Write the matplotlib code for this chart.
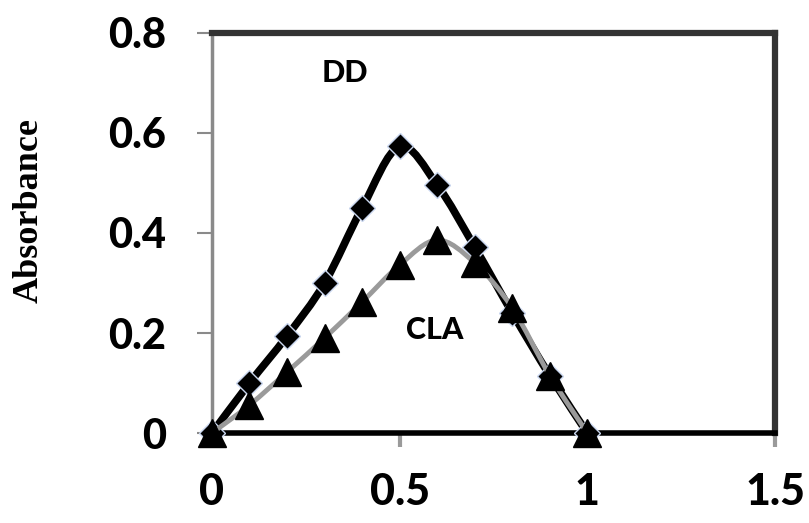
import numpy as np
import matplotlib.pyplot as plt
from matplotlib.path import Path
from matplotlib.patches import PathPatch

# mole fraction and absorbance
x_frac = [0, 0.1, 0.2, 0.3, 0.4, 0.5, 0.6, 0.7, 0.8, 0.9, 1.0]
dd_abs = [0, 0.10, 0.194, 0.30, 0.45, 0.573, 0.496, 0.372, 0.24, 0.115, 0]
cla_abs = [0, 0.056, 0.122, 0.19, 0.262, 0.336, 0.386, 0.34, 0.25, 0.115, 0]

x_ticks = [0, 0.5, 1, 1.5]
x_tick_labels = ['0', '0.5', '1', '1.5']
y_ticks = [0, 0.2, 0.4, 0.6, 0.8]
y_tick_labels = ['0', '0.2', '0.4', '0.6', '0.8']


def smooth_path(xs, ys):
    # excel-like smoothed line: catmull-rom segments as cubic beziers
    p = np.column_stack([xs, ys])
    n = len(p)
    verts = [p[0]]
    codes = [Path.MOVETO]
    for i in range(n - 1):
        p0 = p[i - 1] if i > 0 else p[i]
        p3 = p[i + 2] if i + 2 < n else p[i + 1]
        c1 = p[i] + (p[i + 1] - p0) / 6.0
        c2 = p[i + 1] - (p3 - p[i]) / 6.0
        verts += [c1, c2, p[i + 1]]
        codes += [Path.CURVE4] * 3
    return Path(verts, codes)


fig = plt.figure(figsize=(8.09, 5.23), dpi=100)
ax = fig.add_axes([0.262, 0.172, 0.696, 0.765])

ax.set_xlim(0, 1.5)
ax.set_ylim(0, 0.8)

# DD
ax.add_patch(PathPatch(smooth_path(x_frac, dd_abs), fill=False,
                       edgecolor='black', lw=5.5, zorder=3, capstyle='round'))
ax.plot(x_frac, dd_abs, ls='none', marker='D', ms=13, mfc='black',
        mec='#c9d6ee', mew=1, zorder=4, clip_on=False)

# CLA
ax.add_patch(PathPatch(smooth_path(x_frac, cla_abs), fill=False,
                       edgecolor='#9a9a9a', lw=3.5, zorder=5))
ax.plot(x_frac, cla_abs, ls='none', marker='^', ms=20, mfc='black',
        mec='black', zorder=6, clip_on=False)

ax.text(0.354, 0.72, 'DD', fontsize=22, fontweight='black', family='Lato',
        ha='center', va='center')
ax.text(0.593, 0.206, 'CLA', fontsize=22, fontweight='black', family='Lato',
        ha='center', va='center')

ax.set_xticks(x_ticks)
ax.set_xticklabels(x_tick_labels)
ax.set_yticks(y_ticks)
ax.set_yticklabels(y_tick_labels)
for lab in ax.get_xticklabels():
    lab.set_family('Lato')
    lab.set_fontweight('black')
    lab.set_fontsize(31)
for lab in ax.get_yticklabels():
    lab.set_family('Lato')
    lab.set_fontweight('black')
    lab.set_fontsize(30)

ax.tick_params(axis='y', direction='out', length=11, width=1.5,
               color='#8a8a8a', pad=22)
ax.tick_params(axis='x', direction='out', length=10, width=3,
               color='#9a9a9a', pad=18)

ax.spines['left'].set_color('#8a8a8a')
ax.spines['left'].set_linewidth(2.5)
ax.spines['bottom'].set_color('black')
ax.spines['bottom'].set_linewidth(4)
ax.spines['top'].set_color('#333333')
ax.spines['top'].set_linewidth(4.5)
ax.spines['right'].set_color('#333333')
ax.spines['right'].set_linewidth(4.5)

ax.set_ylabel('Absorbance', family='Liberation Serif', fontweight='bold',
              fontsize=26)
ax.yaxis.set_label_coords(-0.295, 0.555)

fig.savefig('out.png', dpi=100)
